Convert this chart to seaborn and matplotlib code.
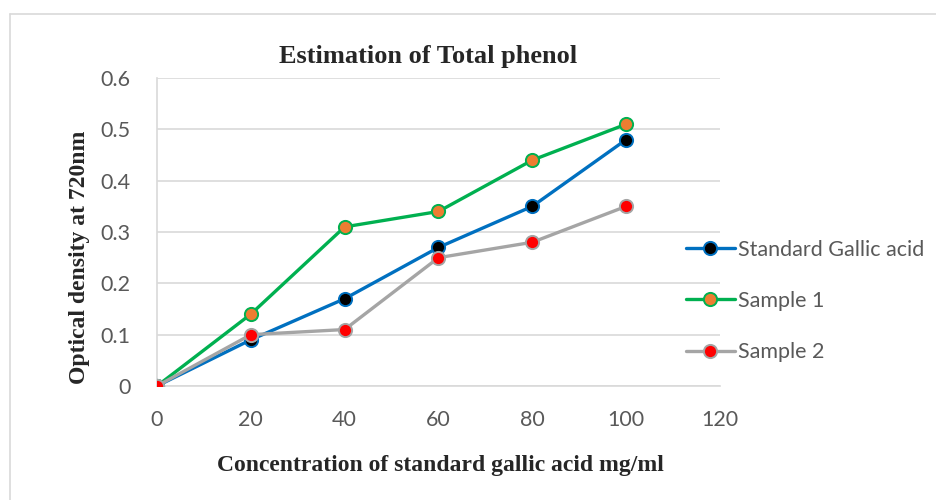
import matplotlib
matplotlib.use("Agg")
import matplotlib.pyplot as plt
import seaborn as sns
import pandas as pd
from matplotlib.lines import Line2D

conc = [0, 20, 40, 60, 80, 100]
standard = [0, 0.09, 0.17, 0.27, 0.35, 0.48]
sample1 = [0, 0.14, 0.31, 0.34, 0.44, 0.51]
sample2 = [0, 0.10, 0.11, 0.25, 0.28, 0.35]
series_names = ["Standard Gallic acid", "Sample 1", "Sample 2"]
x_ticks = [0, 20, 40, 60, 80, 100, 120]
y_ticks = [0, 0.1, 0.2, 0.3, 0.4, 0.5, 0.6]

sns.set_theme(style="white")
plt.rcParams['font.family'] = ['Lato', 'DejaVu Sans']

fig = plt.figure(figsize=(9.37, 5.0), dpi=100)
ax = fig.add_axes([157/937, 1-386/500, (720-157)/937, (386-78)/500])

styles = [
    dict(color="#0070C0", mfc="black", mec="#0070C0"),
    dict(color="#00B050", mfc="#ED7D31", mec="#00B050"),
    dict(color="#A5A5A5", mfc="#FF0000", mec="#A5A5A5"),
]
handles = []
for name, vals, st in zip(series_names, [standard, sample1, sample2], styles):
    df = pd.DataFrame({"x": conc, "y": vals})
    sns.lineplot(data=df, x="x", y="y", ax=ax, color=st["color"], linewidth=2.4,
                 marker="o", markersize=9.5, markerfacecolor=st["mfc"],
                 markeredgecolor=st["mec"], markeredgewidth=1.4, zorder=3)
    handles.append(Line2D([0], [0], color=st["color"], linewidth=2.4, marker="o",
                          markersize=9.5, markerfacecolor=st["mfc"],
                          markeredgecolor=st["mec"], markeredgewidth=1.4))

ax.set_xlim(0, 120)
ax.set_ylim(0, 0.6)
ax.set_xticks(x_ticks)
ax.set_yticks(y_ticks)
ax.set_xticklabels([str(t) for t in x_ticks])
ax.set_yticklabels(["0" if t == 0 else f"{t:.1f}" for t in y_ticks])
ax.tick_params(axis="both", labelsize=15.5, labelcolor="#595959", length=0)
ax.tick_params(axis="x", pad=17)
ax.tick_params(axis="y", pad=19)
ax.grid(axis="y", color="#D9D9D9", linewidth=1.2)
ax.set_axisbelow(True)
for s in ["top", "right"]:
    ax.spines[s].set_visible(False)
ax.spines["left"].set_color("#D9D9D9")
ax.spines["bottom"].set_color("#D9D9D9")
ax.spines["left"].set_linewidth(1.2)
ax.spines["bottom"].set_linewidth(1.2)

ax.set_xlabel("")
ax.set_ylabel("")
fig.text(440/937, 1-465/500, "Concentration of standard gallic acid mg/ml",
         family="Liberation Serif", weight="bold", fontsize=17, ha="center", va="center")
fig.text(80/937, 1-257/500, "Optical density at 720nm", rotation=90,
         family="Liberation Serif", weight="bold", fontsize=17, ha="center", va="center")
fig.text(428/937, 1-57/500, "Estimation of Total phenol",
         family="Liberation Serif", weight="bold", fontsize=19, ha="center", va="center")

leg = fig.legend(handles, series_names, loc="center left",
                 bbox_to_anchor=(677/937, 1-301/500), frameon=False,
                 fontsize=15.5, labelcolor="#595959", handlelength=2.3,
                 handletextpad=0.15, labelspacing=1.45, borderaxespad=0)

# chart area border
fig.add_artist(Line2D([10/937, 10/937], [0, 1-14/500], color="#D9D9D9", linewidth=1.2,
                      transform=fig.transFigure))
fig.add_artist(Line2D([10/937, 1], [1-14/500, 1-14/500], color="#D9D9D9", linewidth=1.2,
                      transform=fig.transFigure))

fig.savefig("out.png", dpi=100)
